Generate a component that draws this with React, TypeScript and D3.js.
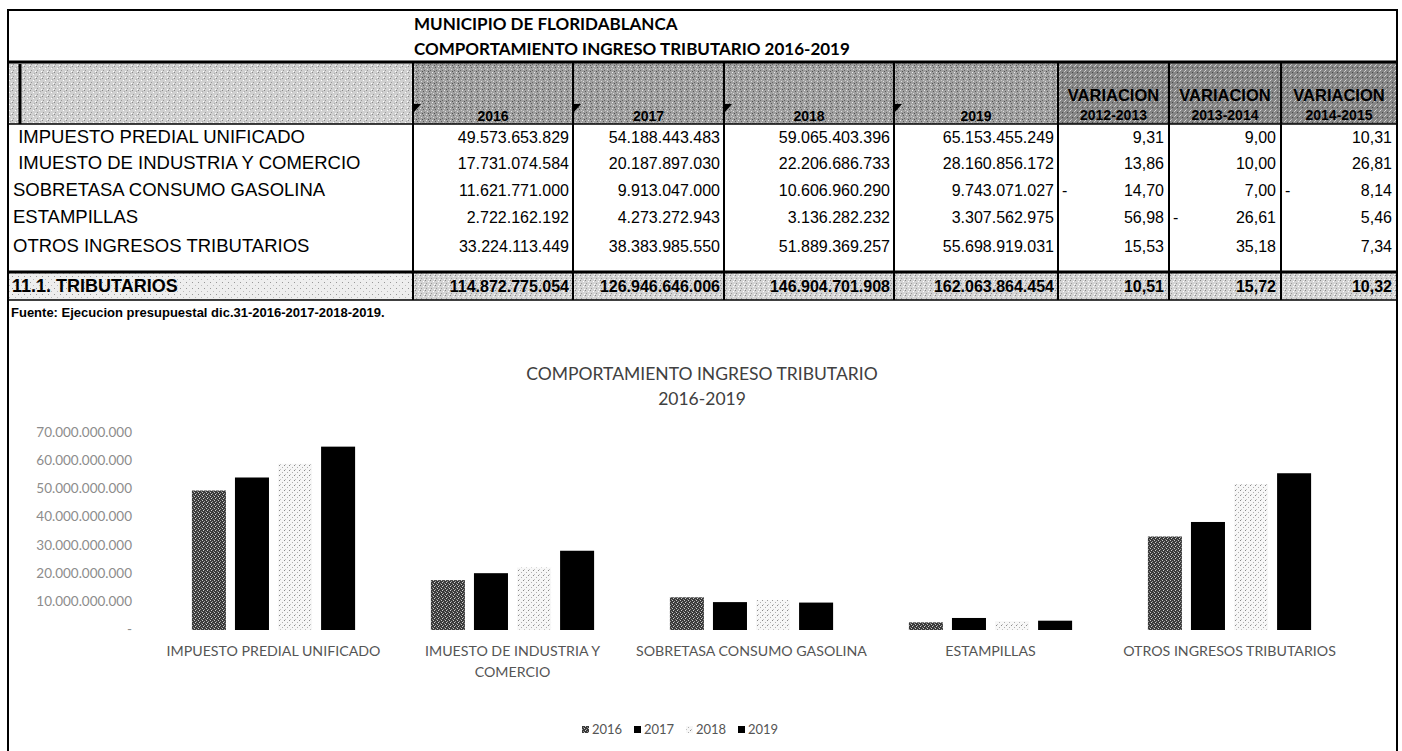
import React, { useEffect, useRef } from 'react';
import * as d3 from 'd3';

// ---------- data ----------
const titleLines = ['MUNICIPIO DE FLORIDABLANCA', 'COMPORTAMIENTO INGRESO TRIBUTARIO 2016-2019'];
const chartTitleLines = ['COMPORTAMIENTO INGRESO TRIBUTARIO', '2016-2019'];
const sourceNote = 'Fuente: Ejecucion presupuestal dic.31-2016-2017-2018-2019.';
const years = ['2016', '2017', '2018', '2019'];
const variationHeaders = ['2012-2013', '2013-2014', '2014-2015'];
const categories = [
  'IMPUESTO PREDIAL UNIFICADO',
  'IMUESTO DE INDUSTRIA Y COMERCIO',
  'SOBRETASA CONSUMO GASOLINA',
  'ESTAMPILLAS',
  'OTROS INGRESOS TRIBUTARIOS',
];
const rowLabels = [
  ' IMPUESTO PREDIAL UNIFICADO',
  ' IMUESTO DE INDUSTRIA Y COMERCIO',
  'SOBRETASA CONSUMO GASOLINA',
  'ESTAMPILLAS',
  'OTROS INGRESOS TRIBUTARIOS',
];
const values2016 = [49573653829, 17731074584, 11621771000, 2722162192, 33224113449];
const values2017 = [54188443483, 20187897030, 9913047000, 4273272943, 38383985550];
const values2018 = [59065403396, 22206686733, 10606960290, 3136282232, 51889369257];
const values2019 = [65153455249, 28160856172, 9743071027, 3307562975, 55698919031];
const variation1 = [9.31, 13.86, -14.7, 56.98, 15.53];
const variation2 = [9.0, 10.0, 7.0, -26.61, 35.18];
const variation3 = [10.31, 26.81, -8.14, 5.46, 7.34];
const totalLabel = '11.1. TRIBUTARIOS';
const totalsByYear = [114872775054, 126946646006, 146904701908, 162063864454];
const totalVariations = [10.51, 15.72, 10.32];
const yTickValues = [0, 10e9, 20e9, 30e9, 40e9, 50e9, 60e9, 70e9];

const valuesByYear = [values2016, values2017, values2018, values2019];
const variations = [variation1, variation2, variation3];

// ---------- layout ----------
const W = 1402;
const H = 751;
const colEdges = [8, 413, 573, 724, 894, 1058, 1169, 1281, 1397];
const rowCenters = [137, 163, 190, 217, 246];

const es = d3.formatLocale({ decimal: ',', thousands: '.', grouping: [3], currency: ['$', ''] });
const fmtInt = es.format(',.0f');
const fmtDec = es.format(',.2f');

const TABLE_FONT = '"Liberation Sans", Arial, sans-serif';
const TITLE_FONT = 'Lato, "Open Sans", sans-serif';

function wrap(sel: any, width: number) {
  sel.each(function (this: SVGTextElement) {
    const text = d3.select(this);
    const words = text.text().split(/\s+/).reverse();
    const x = text.attr('x');
    const y = text.attr('y');
    let line: string[] = [];
    let lineNo = 0;
    let tspan = text.text(null).append('tspan').attr('x', x).attr('y', y);
    let word;
    while ((word = words.pop())) {
      line.push(word);
      tspan.text(line.join(' '));
      if ((tspan.node() as SVGTSpanElement).getComputedTextLength() > width && line.length > 1) {
        line.pop();
        tspan.text(line.join(' '));
        line = [word];
        lineNo += 1;
        tspan = text.append('tspan').attr('x', x).attr('y', +y + lineNo * 21).text(word);
      }
    }
  });
}

export default function App() {
  const ref = useRef<SVGSVGElement>(null);

  useEffect(() => {
    const svg = d3.select(ref.current);
    svg.selectAll('*').remove();
    const defs = svg.append('defs');

    const addPattern = (id: string, size: number, bg: string, dots: [number, number, string][]) => {
      const p = defs
        .append('pattern')
        .attr('id', id)
        .attr('width', size)
        .attr('height', size)
        .attr('patternUnits', 'userSpaceOnUse');
      p.append('rect').attr('width', size).attr('height', size).attr('fill', bg);
      dots.forEach(([x, y, c]) =>
        p.append('rect').attr('x', x).attr('y', y).attr('width', 1).attr('height', 1).attr('fill', c)
      );
    };

    addPattern('p2016', 4, '#3a3a3a', [
      [0, 0, '#c8c8c8'],
      [2, 1, '#9a9a9a'],
      [1, 2, '#d0d0d0'],
      [3, 3, '#888'],
    ]);
    addPattern('p2018', 5, '#f7f7f7', [
      [0, 0, '#8a8a8a'],
      [3, 2, '#b0b0b0'],
      [1, 4, '#c4c4c4'],
    ]);
    addPattern('pHdr', 6, '#a0a0a0', [
      [0, 0, '#e8e8e8'],
      [3, 1, '#5a5a5a'],
      [1, 3, '#ddd'],
      [4, 4, '#666'],
      [5, 2, '#ccc'],
      [2, 5, '#505050'],
    ]);
    addPattern('pHdrLight', 6, '#d0d0d0', [
      [0, 0, '#888'],
      [3, 2, '#fff'],
      [1, 4, '#999'],
      [5, 5, '#fff'],
      [4, 1, '#aaa'],
    ]);
    addPattern('pHdrDark', 5, '#858585', [
      [0, 0, '#d8d8d8'],
      [2, 2, '#4a4a4a'],
      [4, 1, '#c8c8c8'],
      [1, 4, '#bbb'],
    ]);
    addPattern('pTot', 5, '#d4d4d4', [
      [0, 0, '#888'],
      [3, 1, '#fff'],
      [1, 3, '#999'],
      [4, 4, '#fff'],
    ]);
    addPattern('pTotLight', 6, '#eeeeee', [
      [0, 0, '#999'],
      [3, 3, '#bbb'],
    ]);

    svg.append('rect').attr('width', W).attr('height', H).attr('fill', '#fff');

    // ---------- table ----------
    const T = svg.append('g');
    const hdrTop = 63;
    const hdrBot = 124;
    const totTop = 272;
    const totBot = 300;

    T.append('rect').attr('x', colEdges[0]).attr('y', hdrTop).attr('width', colEdges[1] - colEdges[0]).attr('height', hdrBot - hdrTop).attr('fill', 'url(#pHdrLight)');
    T.append('rect').attr('x', colEdges[1]).attr('y', hdrTop).attr('width', colEdges[5] - colEdges[1]).attr('height', hdrBot - hdrTop).attr('fill', 'url(#pHdr)');
    T.append('rect').attr('x', colEdges[5]).attr('y', hdrTop).attr('width', colEdges[8] - colEdges[5]).attr('height', hdrBot - hdrTop).attr('fill', 'url(#pHdrDark)');
    T.append('rect').attr('x', colEdges[0]).attr('y', totTop).attr('width', colEdges[1] - colEdges[0]).attr('height', totBot - totTop).attr('fill', 'url(#pTotLight)');
    T.append('rect').attr('x', colEdges[1]).attr('y', totTop).attr('width', colEdges[8] - colEdges[1]).attr('height', totBot - totTop).attr('fill', 'url(#pTot)');

    // titles
    titleLines.forEach((t, i) => {
      T.append('text')
        .attr('x', 414)
        .attr('y', 30 + i * 25)
        .attr('font-family', TITLE_FONT)
        .attr('font-weight', 700)
        .attr('font-size', 17)
        .attr('fill', '#000')
        .text(t);
    });

    // header texts
    years.forEach((yr, i) => {
      const cx = (colEdges[i + 1] + colEdges[i + 2]) / 2;
      T.append('text')
        .attr('x', cx)
        .attr('y', 121)
        .attr('text-anchor', 'middle')
        .attr('font-family', TABLE_FONT)
        .attr('font-weight', 700)
        .attr('font-size', 14)
        .text(yr);
      T.append('path')
        .attr('d', `M${colEdges[i + 1] + 1},104 l7,0 l-7,8 z`)
        .attr('fill', '#000');
    });
    variationHeaders.forEach((vh, i) => {
      const cx = (colEdges[i + 5] + colEdges[i + 6]) / 2;
      T.append('text')
        .attr('x', cx)
        .attr('y', 101)
        .attr('text-anchor', 'middle')
        .attr('font-family', TABLE_FONT)
        .attr('font-weight', 700)
        .attr('font-size', 16.5)
        .text('VARIACION');
      T.append('text')
        .attr('x', cx)
        .attr('y', 120)
        .attr('text-anchor', 'middle')
        .attr('font-family', TABLE_FONT)
        .attr('font-weight', 700)
        .attr('font-size', 14)
        .text(vh);
    });

    // data rows
    rowLabels.forEach((lab, r) => {
      const by = rowCenters[r] + 6;
      T.append('text')
        .attr('x', 13)
        .attr('y', by)
        .attr('font-family', TABLE_FONT)
        .attr('font-size', 18.5)
        .attr('xml:space', 'preserve')
        .style('white-space', 'pre')
        .text(lab);
      valuesByYear.forEach((vals, c) => {
        T.append('text')
          .attr('x', colEdges[c + 2] - 4)
          .attr('y', by)
          .attr('text-anchor', 'end')
          .attr('font-family', TABLE_FONT)
          .attr('font-size', 16)
          .text(fmtInt(vals[r]));
      });
      variations.forEach((vals, c) => {
        const v = vals[r];
        T.append('text')
          .attr('x', colEdges[c + 6] - 5)
          .attr('y', by)
          .attr('text-anchor', 'end')
          .attr('font-family', TABLE_FONT)
          .attr('font-size', 16)
          .text(fmtDec(Math.abs(v)));
        if (v < 0) {
          T.append('text')
            .attr('x', colEdges[c + 5] + 4)
            .attr('y', by)
            .attr('font-family', TABLE_FONT)
            .attr('font-size', 16)
            .text('-');
        }
      });
    });

    // total row
    const tby = (totTop + totBot) / 2 + 6;
    T.append('text')
      .attr('x', 12)
      .attr('y', tby)
      .attr('font-family', TABLE_FONT)
      .attr('font-weight', 700)
      .attr('font-size', 18)
      .text(totalLabel);
    totalsByYear.forEach((v, c) => {
      T.append('text')
        .attr('x', colEdges[c + 2] - 4)
        .attr('y', tby)
        .attr('text-anchor', 'end')
        .attr('font-family', TABLE_FONT)
        .attr('font-weight', 700)
        .attr('font-size', 16)
        .text(fmtInt(v));
    });
    totalVariations.forEach((v, c) => {
      T.append('text')
        .attr('x', colEdges[c + 6] - 5)
        .attr('y', tby)
        .attr('text-anchor', 'end')
        .attr('font-family', TABLE_FONT)
        .attr('font-weight', 700)
        .attr('font-size', 16)
        .text(fmtDec(v));
    });

    T.append('text')
      .attr('x', 11)
      .attr('y', 317)
      .attr('font-family', TABLE_FONT)
      .attr('font-weight', 700)
      .attr('font-size', 13)
      .text(sourceNote);

    // lines
    const line = (x1: number, y1: number, x2: number, y2: number, w: number) =>
      T.append('line').attr('x1', x1).attr('y1', y1).attr('x2', x2).attr('y2', y2).attr('stroke', '#000').attr('stroke-width', w);
    line(colEdges[0], 10, colEdges[8], 10, 2);
    line(colEdges[0], 9, colEdges[0], H, 2);
    line(colEdges[8], 9, colEdges[8], H, 2);
    line(colEdges[0], 62, colEdges[8], 62, 3);
    line(colEdges[0], hdrBot, colEdges[8], hdrBot, 1.5);
    for (let i = 1; i < colEdges.length - 1; i++) line(colEdges[i], 62, colEdges[i], totBot, 2);
    line(20, 64, 20, hdrBot, 3);
    line(colEdges[0], totTop, colEdges[8], totTop, 3);
    line(colEdges[0], totBot, colEdges[8], totBot, 1.5);

    // ---------- chart ----------
    const C = svg.append('g');
    const x0 = d3.scaleBand<string>().domain(categories).range([154, 1349]).paddingInner(0).paddingOuter(0);
    const x1 = d3.scaleBand<string>().domain(years).range([0, x0.bandwidth()]).paddingInner(0.21).paddingOuter(0.88);
    const y = d3.scaleLinear().domain([0, 70e9]).range([630, 433]);
    const fills: Record<string, string> = {
      '2016': 'url(#p2016)',
      '2017': '#000',
      '2018': 'url(#p2018)',
      '2019': '#000',
    };

    chartTitleLines.forEach((t, i) => {
      C.append('text')
        .attr('x', 702)
        .attr('y', 380 + i * 25)
        .attr('text-anchor', 'middle')
        .attr('font-family', TITLE_FONT)
        .attr('font-size', 17.5)
        .attr('fill', '#404040')
        .text(t);
    });

    // y tick labels
    C.selectAll('.ytick')
      .data(yTickValues)
      .join('text')
      .attr('x', 132)
      .attr('y', (d) => y(d) + 4)
      .attr('text-anchor', 'end')
      .attr('font-family', TITLE_FONT)
      .attr('font-size', 13.5)
      .attr('fill', '#8c8c8c')
      .text((d) => (d === 0 ? '-' : fmtInt(d)));

    // bars
    const groups = C.selectAll('.grp')
      .data(categories)
      .join('g')
      .attr('transform', (d) => `translate(${x0(d)},0)`);
    groups
      .selectAll('rect')
      .data((d, i) => years.map((yr, k) => ({ yr, v: valuesByYear[k][i] })))
      .join('rect')
      .attr('x', (d) => x1(d.yr)!)
      .attr('y', (d) => y(d.v))
      .attr('width', x1.bandwidth())
      .attr('height', (d) => y(0) - y(d.v))
      .attr('fill', (d) => fills[d.yr]);

    // category labels
    C.selectAll('.cat')
      .data(categories)
      .join('text')
      .attr('x', (d) => x0(d)! + x0.bandwidth() / 2)
      .attr('y', 656)
      .attr('text-anchor', 'middle')
      .attr('font-family', TITLE_FONT)
      .attr('font-size', 14.2)
      .attr('fill', '#555')
      .text((d) => d)
      .call(wrap, x0.bandwidth() - 2);

    // legend
    const legStart = 582;
    const legStep = 52;
    years.forEach((yr, i) => {
      const lx = legStart + i * legStep;
      C.append('rect')
        .attr('x', lx)
        .attr('y', 726)
        .attr('width', 7)
        .attr('height', 7)
        .attr('fill', fills[yr]);
      C.append('text')
        .attr('x', lx + 10)
        .attr('y', 734)
        .attr('font-family', TITLE_FONT)
        .attr('font-size', 13)
        .attr('fill', '#555')
        .text(yr);
    });
  }, []);

  return (
    <svg
      ref={ref}
      width={W}
      height={H}
      style={{ position: 'absolute', left: 0, top: 0, background: '#fff' }}
    />
  );
}
